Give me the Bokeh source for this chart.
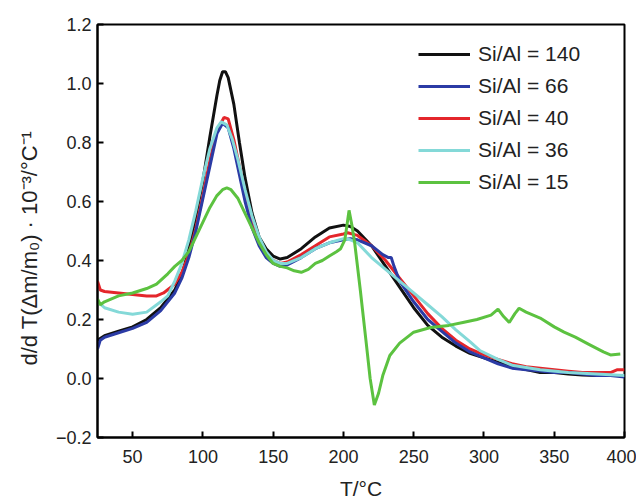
from bokeh.plotting import figure
from bokeh.models import FixedTicker, CustomJSTickFormatter, Legend, Title
from bokeh.embed import file_html
from bokeh.resources import INLINE

# ---- data ----
t_140 = [25, 30, 40, 50, 60, 70, 80, 85, 90, 95, 100, 105, 110, 112, 114, 116, 118, 122, 126, 130, 135, 140, 145, 150,
         155, 160, 170, 180, 190, 200, 205, 210, 220, 230, 240, 250, 260, 270, 280, 290, 300, 310, 320, 330, 340, 350,
         360, 370, 380, 390, 400]
v_140 = [0.13, 0.145, 0.16, 0.175, 0.20, 0.24, 0.30, 0.35, 0.44, 0.55, 0.67, 0.82, 0.96, 1.01, 1.04, 1.04, 1.02, 0.93,
         0.80, 0.68, 0.56, 0.48, 0.44, 0.415, 0.405, 0.41, 0.44, 0.48, 0.51, 0.52, 0.515, 0.50, 0.45, 0.38, 0.31, 0.24,
         0.18, 0.14, 0.11, 0.085, 0.07, 0.055, 0.04, 0.03, 0.02, 0.02, 0.015, 0.012, 0.01, 0.01, 0.01]

t_66 = [25, 27, 30, 40, 50, 60, 70, 80, 85, 90, 95, 100, 105, 110, 114, 118, 122, 126, 130, 135, 140, 145, 150, 155,
        160, 170, 180, 190, 200, 205, 210, 220, 228, 232, 234, 236, 240, 250, 260, 270, 280, 290, 300, 310, 320, 330,
        340, 350, 360, 370, 380, 390, 400]
v_66 = [0.10, 0.13, 0.14, 0.155, 0.17, 0.19, 0.23, 0.29, 0.34, 0.41, 0.50, 0.61, 0.72, 0.83, 0.865, 0.85, 0.78, 0.69,
        0.60, 0.51, 0.45, 0.41, 0.39, 0.38, 0.385, 0.41, 0.44, 0.46, 0.47, 0.474, 0.47, 0.45, 0.42, 0.41, 0.41, 0.38,
        0.33, 0.26, 0.20, 0.16, 0.12, 0.09, 0.07, 0.05, 0.035, 0.03, 0.025, 0.02, 0.02, 0.015, 0.01, 0.01, 0.005]

t_40 = [25, 27, 30, 40, 50, 60, 67, 72, 80, 85, 90, 95, 100, 105, 110, 115, 118, 122, 126, 130, 135, 140, 145, 150,
        155, 160, 170, 180, 190, 200, 203, 210, 220, 230, 240, 250, 260, 270, 280, 290, 300, 310, 320, 330, 340, 350,
        360, 370, 380, 390, 395, 400]
v_40 = [0.33, 0.30, 0.295, 0.29, 0.285, 0.28, 0.28, 0.29, 0.32, 0.36, 0.42, 0.51, 0.62, 0.74, 0.84, 0.885, 0.88, 0.81,
        0.72, 0.63, 0.53, 0.46, 0.42, 0.40, 0.39, 0.395, 0.42, 0.45, 0.48, 0.49, 0.494, 0.485, 0.45, 0.40, 0.34, 0.28,
        0.22, 0.17, 0.13, 0.10, 0.08, 0.065, 0.05, 0.04, 0.035, 0.03, 0.025, 0.02, 0.02, 0.02, 0.03, 0.03]

t_36 = [25, 30, 40, 50, 60, 70, 75, 80, 85, 90, 95, 100, 105, 110, 113, 117, 121, 125, 130, 135, 140, 145, 150, 155,
        160, 170, 180, 190, 200, 205, 210, 220, 230, 240, 250, 260, 270, 280, 290, 297, 310, 320, 340, 360, 380, 400]
v_36 = [0.26, 0.24, 0.225, 0.218, 0.225, 0.26, 0.28, 0.33, 0.39, 0.47, 0.57, 0.68, 0.78, 0.85, 0.87, 0.86, 0.81, 0.74,
        0.64, 0.55, 0.48, 0.43, 0.40, 0.39, 0.39, 0.41, 0.44, 0.46, 0.474, 0.47, 0.46, 0.41, 0.37, 0.33, 0.29, 0.25,
        0.21, 0.165, 0.125, 0.095, 0.065, 0.045, 0.03, 0.02, 0.015, 0.01]

t_15 = [25, 27, 30, 40, 50, 60, 67, 75, 80, 85, 90, 95, 100, 105, 110, 114, 117, 120, 125, 130, 135, 140, 145, 150,
        155, 160, 165, 170, 175, 180, 185, 190, 195, 198, 201, 204, 206, 208, 212, 216, 219, 222, 225, 228, 233, 240,
        250, 262, 275, 285, 295, 305, 310, 314, 318, 322, 325, 330, 340, 350, 357, 365, 375, 385, 390, 397]
v_15 = [0.27, 0.25, 0.26, 0.28, 0.29, 0.305, 0.32, 0.355, 0.38, 0.40, 0.43, 0.48, 0.53, 0.58, 0.62, 0.64, 0.646, 0.64,
        0.61, 0.56, 0.51, 0.46, 0.42, 0.39, 0.38, 0.375, 0.365, 0.36, 0.37, 0.39, 0.40, 0.415, 0.43, 0.44, 0.47, 0.57,
        0.52, 0.46, 0.30, 0.13, 0.0, -0.09, -0.05, 0.01, 0.078, 0.12, 0.157, 0.173, 0.18, 0.19, 0.20, 0.215, 0.235,
        0.21, 0.19, 0.22, 0.238, 0.225, 0.205, 0.175, 0.157, 0.14, 0.115, 0.09, 0.08, 0.083]

series = [
    ("Si/Al = 140", t_140, v_140, "#111111"),
    ("Si/Al = 40", t_40, v_40, "#e4262b"),
    ("Si/Al = 66", t_66, v_66, "#2b3ba5"),
    ("Si/Al = 36", t_36, v_36, "#84d9d8"),
    ("Si/Al = 15", t_15, v_15, "#5cc240"),
]
legend_order = ["Si/Al = 140", "Si/Al = 66", "Si/Al = 40", "Si/Al = 36", "Si/Al = 15"]

x_ticks = [50, 100, 150, 200, 250, 300, 350, 400]
y_ticks = [-0.2, 0.0, 0.2, 0.4, 0.6, 0.8, 1.0, 1.2]

FONT = "Liberation Sans"
TXT = "#222222"

p = figure(width=636, height=502, x_range=(25, 400), y_range=(-0.2, 1.2),
           output_backend="svg", toolbar_location=None,
           min_border_left=97, min_border_right=12, min_border_top=24, min_border_bottom=63)

renderers = {}
for name, t, v, c in series:
    renderers[name] = p.line(t, v, line_color=c, line_width=3)

p.xgrid.visible = False
p.ygrid.visible = False
p.outline_line_color = "black"
p.outline_line_width = 2
p.background_fill_color = "white"
p.border_fill_color = "white"

for ax in (p.xaxis[0], p.yaxis[0]):
    ax.axis_line_width = 2
    ax.major_tick_in = 6
    ax.major_tick_out = 0
    ax.major_tick_line_width = 2
    ax.minor_tick_line_color = None
    ax.major_label_text_font = FONT
    ax.major_label_text_font_size = "18px"
    ax.major_label_text_color = TXT
    ax.axis_label_text_font = FONT
    ax.axis_label_text_font_style = "normal"
    ax.axis_label_text_color = TXT

p.xaxis.ticker = FixedTicker(ticks=x_ticks)
p.yaxis.ticker = FixedTicker(ticks=y_ticks)
p.yaxis.formatter = CustomJSTickFormatter(
    code="return (tick < -1e-9 ? '\u2212' : '') + Math.abs(tick).toFixed(1);")
p.xaxis.major_label_standoff = 12
p.yaxis.major_label_standoff = 6

p.xaxis.axis_label = "T/°C"
p.xaxis.axis_label_text_font_size = "21px"
p.xaxis.axis_label_standoff = 11

# y-axis title as a side title (start-aligned, shifted up from the frame bottom)
ytitle = Title(text="d/d T(Δm/m₀) · 10⁻³/°C⁻¹", align="left", offset=72, standoff=21,
               text_font=FONT, text_font_size="22px", text_font_style="normal", text_color=TXT)
p.add_layout(ytitle, "left")

legend = Legend(items=[(n, [renderers[n]]) for n in legend_order],
                location=(321, 243), padding=0, margin=0, spacing=8,
                glyph_width=52, glyph_height=24, label_height=24, label_standoff=8,
                label_text_font=FONT, label_text_font_size="21px", label_text_color=TXT,
                border_line_color=None, background_fill_alpha=0)
p.add_layout(legend)

open("out.html", "w").write(file_html(p, INLINE))
